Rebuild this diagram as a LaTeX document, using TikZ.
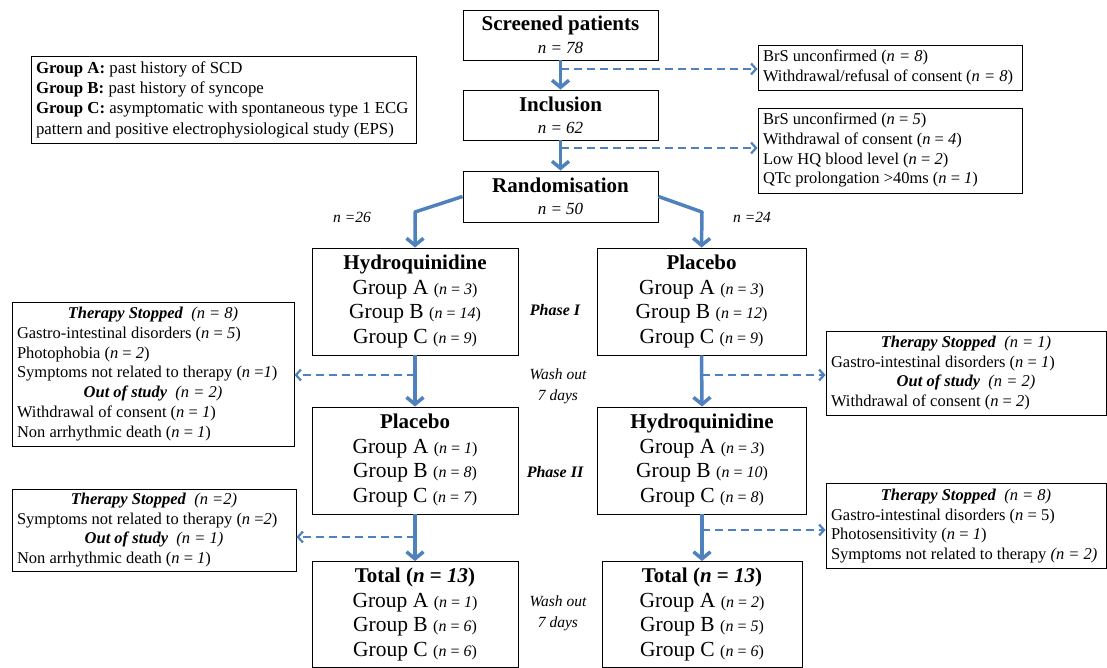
\documentclass[tikz,border=0pt]{standalone}
\usepackage{fontspec}
\setmainfont{Liberation Serif}
\usetikzlibrary{arrows.meta}
\definecolor{flowBlue}{RGB}{79,129,189}
\newcommand{\gcount}[1]{{\fontsize{16}{16}\selectfont(\textit{n} = \textit{#1})}}
\newcommand{\headline}[2]{\multicolumn{1}{@{}c@{}}{\textbf{\textit{#1}}\enspace\textit{(n #2)}}}
\begin{document}
\begin{tikzpicture}[x=1pt, y=-1pt, boxStyle/.style={rectangle, draw, line width=0.9pt, align=center, inner sep=0pt, font=\fontsize{21.5}{24.5}\selectfont}, noteStyle/.style={rectangle, draw, line width=0.9pt, inner xsep=5pt, inner ysep=0pt, font=\fontsize{16.5}{19.7}\selectfont}, flowArrow/.style={draw=flowBlue, line width=3.5pt, line join=round, -{Straight Barb[length=7pt, width=17pt]}}, dropArrow/.style={draw=flowBlue, line width=2.2pt, dash pattern=on 8pt off 5pt, -{Straight Barb[length=5pt, width=11pt]}}, sideStyle/.style={font=\fontsize{15.5}{21}\selectfont\itshape, align=center}]
    \useasboundingbox (0,0) rectangle (1107,668);

    \node[boxStyle, minimum width=195, minimum height=50, font=\fontsize{17}{23}\selectfont] (screened) at (560.5, 35) {{\fontsize{21}{23}\selectfont\bfseries Screened patients}\\\textit{n = 78}};
    \node[boxStyle, minimum width=195, minimum height=50, font=\fontsize{17}{22}\selectfont] (inclusion) at (560.5, 115) {{\fontsize{21}{22}\selectfont\bfseries Inclusion}\\\textit{n = 62}};
    \node[boxStyle, minimum width=195, minimum height=51, font=\fontsize{17}{22}\selectfont] (random) at (560.5, 196.5) {{\fontsize{21}{22}\selectfont\bfseries Randomisation}\\\textit{n = 50}};

    \node[noteStyle, minimum height=87, font=\fontsize{16.8}{20.3}\selectfont] (legend) at (223.5, 99.5) {\begin{tabular}{@{}p{375pt}@{}}
        \textbf{Group A:} past history of SCD\\
        \textbf{Group B:} past history of syncope\\
        \textbf{Group C:} asymptomatic with spontaneous type 1 ECG\\
        pattern and positive electrophysiological study (EPS)
    \end{tabular}};
    \node[noteStyle, minimum height=45] (exclOne) at (890, 67.5) {\begin{tabular}{@{}p{254pt}@{}}
        BrS unconfirmed (\textit{n = 8})\\
        Withdrawal/refusal of consent (\textit{n = 8})
    \end{tabular}};
    \node[noteStyle, minimum height=85] (exclTwo) at (890, 150.5) {\begin{tabular}{@{}p{254pt}@{}}
        BrS unconfirmed (\textit{n} = \textit{5})\\
        Withdrawal of consent (\textit{n} = \textit{4})\\
        Low HQ blood level (\textit{n} = \textit{2})\\
        QTc prolongation >40ms (\textit{n} = \textit{1})
    \end{tabular}};

    \node[boxStyle, minimum width=206, minimum height=107] (hqOne) at (415, 301.5) {{\fontsize{21}{24}\selectfont\bfseries Hydroquinidine}\\Group A \gcount{3}\\Group B \gcount{14}\\Group C \gcount{9}};
    \node[boxStyle, minimum width=209, minimum height=107] (plOne) at (701.5, 301.5) {{\fontsize{21}{24}\selectfont\bfseries Placebo}\\Group A \gcount{3}\\Group B \gcount{12}\\Group C \gcount{9}};
    \node[boxStyle, minimum width=206, minimum height=107] (plTwo) at (415, 460.5) {{\fontsize{21}{24}\selectfont\bfseries Placebo}\\Group A \gcount{1}\\Group B \gcount{8}\\Group C \gcount{7}};
    \node[boxStyle, minimum width=209, minimum height=107] (hqTwo) at (702, 460.5) {{\fontsize{21}{24}\selectfont\bfseries Hydroquinidine}\\Group A \gcount{3}\\Group B \gcount{10}\\Group C \gcount{8}};
    \node[boxStyle, minimum width=206, minimum height=106] (totLeft) at (415, 614.5) {{\fontsize{21}{24}\selectfont\bfseries Total (\textit{n} = \textit{13})}\\Group A \gcount{1}\\Group B \gcount{6}\\Group C \gcount{6}};
    \node[boxStyle, minimum width=200, minimum height=106] (totRight) at (702, 614.5) {{\fontsize{21}{24}\selectfont\bfseries Total (\textit{n} = \textit{13})}\\Group A \gcount{2}\\Group B \gcount{5}\\Group C \gcount{6}};

    \node[noteStyle, minimum height=144] (stopLeftOne) at (153, 374) {\begin{tabular}{@{}p{272pt}@{}}
        \headline{Therapy Stopped}{= 8}\\
        Gastro-intestinal disorders (\textit{n} = \textit{5})\\
        Photophobia (\textit{n} = \textit{2})\\
        Symptoms not related to therapy (\textit{n} =\textit{1})\\
        \headline{Out of study}{= 2}\\
        Withdrawal of consent (\textit{n} = \textit{1})\\
        Non arrhythmic death (\textit{n} = \textit{1})
    \end{tabular}};
    \node[noteStyle, minimum height=84] (stopRightOne) at (966, 373) {\begin{tabular}{@{}p{270pt}@{}}
        \headline{Therapy Stopped}{= 1}\\
        Gastro-intestinal disorders (\textit{n} = \textit{1})\\
        \headline{Out of study}{= 2}\\
        Withdrawal of consent (\textit{n} = \textit{2})
    \end{tabular}};
    \node[noteStyle, minimum height=82] (stopLeftTwo) at (154, 530) {\begin{tabular}{@{}p{274pt}@{}}
        \headline{Therapy Stopped}{=2}\\
        Symptoms not related to therapy (\textit{n} =\textit{2})\\
        \headline{Out of study}{= 1}\\
        Non arrhythmic death (\textit{n} = \textit{1})
    \end{tabular}};
    \node[noteStyle, minimum height=85] (stopRightTwo) at (966, 526) {\begin{tabular}{@{}p{270pt}@{}}
        \headline{Therapy Stopped}{= 8}\\
        Gastro-intestinal disorders (\textit{n} = 5)\\
        Photosensitivity (\textit{n} = \textit{1})\\
        Symptoms not related to therapy \textit{(n = 2)}
    \end{tabular}};

    \node[sideStyle] (nLeft) at (352, 217) {n =26};
    \node[sideStyle] (nRight) at (752, 217) {n =24};
    \node[sideStyle, font=\fontsize{16}{20}\selectfont\bfseries\itshape] (phaseOne) at (555, 310) {Phase I};
    \node[sideStyle] (washOne) at (558, 386) {Wash out\\7 days};
    \node[sideStyle, font=\fontsize{16}{20}\selectfont\bfseries\itshape] (phaseTwo) at (555, 472) {Phase II};
    \node[sideStyle] (washTwo) at (558, 613) {Wash out\\7 days};

    \coordinate (dropA) at (560.5, 69);
    \coordinate (dropB) at (560.5, 148);
    \coordinate (kneeLeft) at (415, 212);
    \coordinate (kneeRight) at (702, 212);
    \coordinate (dropC) at (415, 375);
    \coordinate (dropD) at (701.5, 375);
    \coordinate (dropE) at (415, 537);
    \coordinate (dropF) at (702, 530);

    \draw[flowArrow] (screened.south) -- (inclusion.north);
    \draw[flowArrow] (inclusion.south) -- (random.north);
    \draw[flowArrow] (random.west) -- (kneeLeft) -- (hqOne.north);
    \draw[flowArrow] (random.east) -- (kneeRight) -- (plOne.north);
    \draw[flowArrow] (hqOne.south) -- (plTwo.north);
    \draw[flowArrow] (plOne.south) -- (hqTwo.north);
    \draw[flowArrow] (plTwo.south) -- (totLeft.north);
    \draw[flowArrow] (hqTwo.south) -- (totRight.north);

    \draw[dropArrow] (dropA) -- (dropA -| exclOne.west);
    \draw[dropArrow] (dropB) -- (dropB -| exclTwo.west);
    \draw[dropArrow] (dropC) -- (dropC -| stopLeftOne.east);
    \draw[dropArrow] (dropD) -- (dropD -| stopRightOne.west);
    \draw[dropArrow] (dropE) -- (dropE -| stopLeftTwo.east);
    \draw[dropArrow] (dropF) -- (dropF -| stopRightTwo.west);
\end{tikzpicture}
\end{document}
